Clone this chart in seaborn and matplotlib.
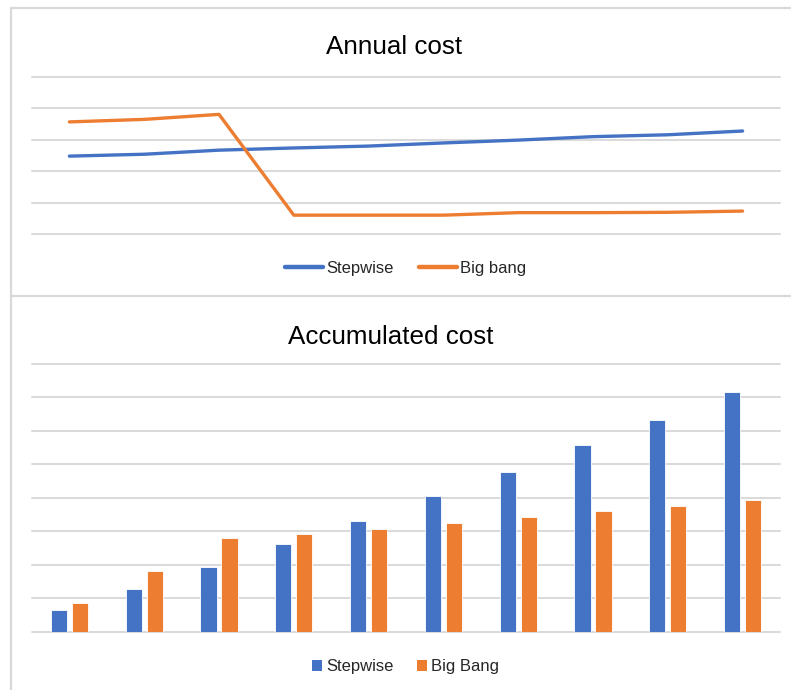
import matplotlib
matplotlib.use("Agg")
import matplotlib.pyplot as plt
from matplotlib.lines import Line2D
import seaborn as sns
import pandas as pd

# ---- data -------------------------------------------------------------
years = list(range(1, 11))
annual_stepwise = [2.48, 2.54, 2.67, 2.74, 2.80, 2.90, 2.99, 3.10, 3.16, 3.28]
annual_bigbang = [3.57, 3.65, 3.81, 0.60, 0.60, 0.60, 0.68, 0.68, 0.69, 0.73]
accum_stepwise = [0.64, 1.27, 1.94, 2.62, 3.31, 4.05, 4.78, 5.58, 6.32, 7.16]
accum_bigbang = [0.87, 1.82, 2.79, 2.91, 3.08, 3.25, 3.42, 3.60, 3.76, 3.93]
line_labels = ["Stepwise", "Big bang"]
bar_labels = ["Stepwise", "Big Bang"]

BLUE = "#4472C4"
ORANGE = "#ED7D31"
GRID = "#D9D9D9"

sns.set_theme(style="white")
plt.rcParams["font.family"] = ["Liberation Sans", "DejaVu Sans"]

W, H = 791, 690
fig = plt.figure(figsize=(W / 100, H / 100), dpi=100)
fig.patch.set_facecolor("white")


def px_axes(x0, y_top, x1, y_bot):
    return fig.add_axes([x0 / W, 1 - y_bot / H, (x1 - x0) / W, (y_bot - y_top) / H])


def style_axes(ax, ymax):
    ax.set_ylim(0, ymax)
    ax.set_xlim(-0.5, len(years) - 0.5)
    ax.set_yticks(range(0, ymax + 1))
    ax.yaxis.grid(True, color=GRID, linewidth=1.4)
    ax.xaxis.grid(False)
    ax.set_axisbelow(True)
    for gl in ax.get_ygridlines():
        gl.set_clip_on(False)
    for s in ax.spines.values():
        s.set_visible(False)
    ax.tick_params(left=False, bottom=False, labelleft=False, labelbottom=False)
    ax.set_xlabel("")
    ax.set_ylabel("")
    ax.set_facecolor("none")


# ---- chart frames -----------------------------------------------------
frame_kw = dict(color=GRID, linewidth=1.6, transform=fig.transFigure)
fig.add_artist(Line2D([11 / W, 11 / W], [1 - 8 / H, 0], **frame_kw))
fig.add_artist(Line2D([11 / W, 1], [1 - 8 / H, 1 - 8 / H], **frame_kw))
fig.add_artist(Line2D([11 / W, 1], [1 - 295.5 / H, 1 - 295.5 / H], **frame_kw))

# ---- annual cost (lines) ----------------------------------------------
annual = pd.DataFrame({
    "year": years * 2,
    "cost": annual_stepwise + annual_bigbang,
    "plan": [line_labels[0]] * len(years) + [line_labels[1]] * len(years),
})
annual["pos"] = annual["year"] - 1

ax1 = px_axes(32, 77, 780, 234)
sns.lineplot(data=annual, x="pos", y="cost", hue="plan", hue_order=line_labels,
             palette=[BLUE, ORANGE], linewidth=2.4, ax=ax1, legend=False)
for ln in ax1.get_lines():
    ln.set_solid_capstyle("round")
    ln.set_solid_joinstyle("round")
style_axes(ax1, 5)

line_handles = [Line2D([], [], color=c, linewidth=3.2) for c in (BLUE, ORANGE)]
ax1.legend(line_handles, line_labels, loc="center", frameon=False, ncol=2,
           bbox_to_anchor=(405.5 / W, 1 - 268 / H), bbox_transform=fig.transFigure,
           fontsize=12, handlelength=2.3, handletextpad=0.2, columnspacing=1.5,
           borderpad=0, borderaxespad=0)

fig.text(394 / W, 1 - 54 / H, "Annual cost", ha="center", va="baseline",
         fontsize=18.7, color="#000000")

# ---- accumulated cost (bars) ------------------------------------------
accum = pd.DataFrame({
    "year": [str(y) for y in years] * 2,
    "cost": accum_stepwise + accum_bigbang,
    "plan": [bar_labels[0]] * len(years) + [bar_labels[1]] * len(years),
})

ax2 = px_axes(32, 364, 780, 631.7)
sns.barplot(data=accum, x="year", y="cost", hue="plan", hue_order=bar_labels,
            palette=[BLUE, ORANGE], width=0.56, gap=0.22, ax=ax2,
            edgecolor="white", linewidth=0.6, saturation=1, legend=False)
style_axes(ax2, 8)

bar_handles = [plt.Rectangle((0, 0), 1, 1, facecolor=c, edgecolor="none") for c in (BLUE, ORANGE)]
ax2.legend(bar_handles, bar_labels, loc="center", frameon=False, ncol=2,
           bbox_to_anchor=(405.5 / W, 1 - 667 / H), bbox_transform=fig.transFigure,
           fontsize=12, handlelength=0.6, handleheight=0.6, handletextpad=0.25,
           columnspacing=1.4, borderpad=0, borderaxespad=0)

fig.text(391 / W, 1 - 344 / H, "Accumulated cost", ha="center", va="baseline",
         fontsize=18.7, color="#000000")

fig.savefig("out.png", dpi=100, facecolor="white")
